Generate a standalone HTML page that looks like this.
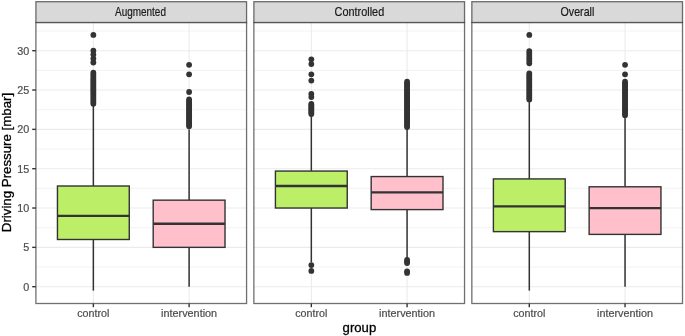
<!DOCTYPE html>
<html><head><meta charset="utf-8"><title>plot</title><style>html,body{margin:0;padding:0;background:#fff}svg{display:block;will-change:transform;opacity:0.9999}</style></head><body>
<svg width="685" height="336" viewBox="0 0 685 336" font-family="Liberation Sans, sans-serif">
<rect width="685" height="336" fill="#fff"/>
<rect x="35.90" y="22.5" width="210.67" height="281.0" fill="#fff"/>
<line x1="35.90" x2="246.57" y1="267.03" y2="267.03" stroke="#EBEBEB" stroke-width="0.6"/>
<line x1="35.90" x2="246.57" y1="227.70" y2="227.70" stroke="#EBEBEB" stroke-width="0.6"/>
<line x1="35.90" x2="246.57" y1="188.36" y2="188.36" stroke="#EBEBEB" stroke-width="0.6"/>
<line x1="35.90" x2="246.57" y1="149.03" y2="149.03" stroke="#EBEBEB" stroke-width="0.6"/>
<line x1="35.90" x2="246.57" y1="109.69" y2="109.69" stroke="#EBEBEB" stroke-width="0.6"/>
<line x1="35.90" x2="246.57" y1="70.36" y2="70.36" stroke="#EBEBEB" stroke-width="0.6"/>
<line x1="35.90" x2="246.57" y1="31.02" y2="31.02" stroke="#EBEBEB" stroke-width="0.6"/>
<line x1="35.90" x2="246.57" y1="286.70" y2="286.70" stroke="#EBEBEB" stroke-width="1.1"/>
<line x1="35.90" x2="246.57" y1="247.36" y2="247.36" stroke="#EBEBEB" stroke-width="1.1"/>
<line x1="35.90" x2="246.57" y1="208.03" y2="208.03" stroke="#EBEBEB" stroke-width="1.1"/>
<line x1="35.90" x2="246.57" y1="168.69" y2="168.69" stroke="#EBEBEB" stroke-width="1.1"/>
<line x1="35.90" x2="246.57" y1="129.36" y2="129.36" stroke="#EBEBEB" stroke-width="1.1"/>
<line x1="35.90" x2="246.57" y1="90.02" y2="90.02" stroke="#EBEBEB" stroke-width="1.1"/>
<line x1="35.90" x2="246.57" y1="50.69" y2="50.69" stroke="#EBEBEB" stroke-width="1.1"/>
<line x1="93.36" x2="93.36" y1="22.5" y2="303.5" stroke="#EBEBEB" stroke-width="1.1"/>
<line x1="189.11" x2="189.11" y1="22.5" y2="303.5" stroke="#EBEBEB" stroke-width="1.1"/>
<circle cx="93.36" cy="34.96" r="2.9" fill="#333333"/>
<circle cx="93.36" cy="50.69" r="2.9" fill="#333333"/>
<circle cx="93.36" cy="54.62" r="2.9" fill="#333333"/>
<circle cx="93.36" cy="58.56" r="2.9" fill="#333333"/>
<circle cx="93.36" cy="62.49" r="2.9" fill="#333333"/>
<circle cx="93.36" cy="72.72" r="2.9" fill="#333333"/>
<circle cx="93.36" cy="74.66" r="2.9" fill="#333333"/>
<circle cx="93.36" cy="76.60" r="2.9" fill="#333333"/>
<circle cx="93.36" cy="78.54" r="2.9" fill="#333333"/>
<circle cx="93.36" cy="80.49" r="2.9" fill="#333333"/>
<circle cx="93.36" cy="82.43" r="2.9" fill="#333333"/>
<circle cx="93.36" cy="84.37" r="2.9" fill="#333333"/>
<circle cx="93.36" cy="86.31" r="2.9" fill="#333333"/>
<circle cx="93.36" cy="88.25" r="2.9" fill="#333333"/>
<circle cx="93.36" cy="90.20" r="2.9" fill="#333333"/>
<circle cx="93.36" cy="92.14" r="2.9" fill="#333333"/>
<circle cx="93.36" cy="94.08" r="2.9" fill="#333333"/>
<circle cx="93.36" cy="96.02" r="2.9" fill="#333333"/>
<circle cx="93.36" cy="97.97" r="2.9" fill="#333333"/>
<circle cx="93.36" cy="99.91" r="2.9" fill="#333333"/>
<circle cx="93.36" cy="101.85" r="2.9" fill="#333333"/>
<circle cx="93.36" cy="103.79" r="2.9" fill="#333333"/>
<line x1="93.36" x2="93.36" y1="105.76" y2="186.00" stroke="#333333" stroke-width="1.5"/>
<line x1="93.36" x2="93.36" y1="239.50" y2="290.63" stroke="#333333" stroke-width="1.5"/>
<rect x="57.45" y="186.00" width="71.82" height="53.50" fill="#BCEE68" stroke="#333333" stroke-width="1.4"/>
<line x1="57.45" x2="129.27" y1="215.90" y2="215.90" stroke="#333333" stroke-width="2.3"/>
<circle cx="189.11" cy="64.85" r="2.9" fill="#333333"/>
<circle cx="189.11" cy="74.29" r="2.9" fill="#333333"/>
<circle cx="189.11" cy="91.99" r="2.9" fill="#333333"/>
<circle cx="189.11" cy="99.47" r="2.9" fill="#333333"/>
<circle cx="189.11" cy="101.04" r="2.9" fill="#333333"/>
<circle cx="189.11" cy="102.61" r="2.9" fill="#333333"/>
<circle cx="189.11" cy="104.19" r="2.9" fill="#333333"/>
<circle cx="189.11" cy="105.76" r="2.9" fill="#333333"/>
<circle cx="189.11" cy="107.33" r="2.9" fill="#333333"/>
<circle cx="189.11" cy="108.91" r="2.9" fill="#333333"/>
<circle cx="189.11" cy="110.48" r="2.9" fill="#333333"/>
<circle cx="189.11" cy="112.05" r="2.9" fill="#333333"/>
<circle cx="189.11" cy="113.63" r="2.9" fill="#333333"/>
<circle cx="189.11" cy="115.20" r="2.9" fill="#333333"/>
<circle cx="189.11" cy="116.77" r="2.9" fill="#333333"/>
<circle cx="189.11" cy="118.35" r="2.9" fill="#333333"/>
<circle cx="189.11" cy="119.92" r="2.9" fill="#333333"/>
<circle cx="189.11" cy="121.49" r="2.9" fill="#333333"/>
<circle cx="189.11" cy="123.07" r="2.9" fill="#333333"/>
<circle cx="189.11" cy="124.64" r="2.9" fill="#333333"/>
<circle cx="189.11" cy="126.21" r="2.9" fill="#333333"/>
<line x1="189.11" x2="189.11" y1="129.36" y2="200.16" stroke="#333333" stroke-width="1.5"/>
<line x1="189.11" x2="189.11" y1="247.36" y2="286.70" stroke="#333333" stroke-width="1.5"/>
<rect x="153.20" y="200.16" width="71.82" height="47.20" fill="#FFC0CB" stroke="#333333" stroke-width="1.4"/>
<line x1="153.20" x2="225.02" y1="223.76" y2="223.76" stroke="#333333" stroke-width="2.3"/>
<rect x="35.90" y="22.5" width="210.67" height="281.0" fill="none" stroke="#333333" stroke-opacity="0.7" stroke-width="1.3"/>
<rect x="35.90" y="1.7" width="210.67" height="20.8" fill="#D9D9D9" stroke="#333333" stroke-opacity="0.7" stroke-width="1.3"/>
<text x="140.48" y="15.7" font-size="12.4" fill="#1A1A1A" stroke="#1A1A1A" stroke-width="0.2" text-anchor="middle" textLength="50.9" lengthAdjust="spacingAndGlyphs">Augmented</text>
<line x1="93.36" x2="93.36" y1="303.5" y2="307.2" stroke="#333333" stroke-width="1.4"/>
<text x="93.36" y="317.45" font-size="10.7" fill="#4D4D4D" stroke="#4D4D4D" stroke-width="0.2" text-anchor="middle" textLength="32.2" lengthAdjust="spacingAndGlyphs">control</text>
<line x1="189.11" x2="189.11" y1="303.5" y2="307.2" stroke="#333333" stroke-width="1.4"/>
<text x="189.11" y="317.45" font-size="10.7" fill="#4D4D4D" stroke="#4D4D4D" stroke-width="0.2" text-anchor="middle" textLength="56.0" lengthAdjust="spacingAndGlyphs">intervention</text>
<rect x="253.87" y="22.5" width="210.67" height="281.0" fill="#fff"/>
<line x1="253.87" x2="464.54" y1="267.03" y2="267.03" stroke="#EBEBEB" stroke-width="0.6"/>
<line x1="253.87" x2="464.54" y1="227.70" y2="227.70" stroke="#EBEBEB" stroke-width="0.6"/>
<line x1="253.87" x2="464.54" y1="188.36" y2="188.36" stroke="#EBEBEB" stroke-width="0.6"/>
<line x1="253.87" x2="464.54" y1="149.03" y2="149.03" stroke="#EBEBEB" stroke-width="0.6"/>
<line x1="253.87" x2="464.54" y1="109.69" y2="109.69" stroke="#EBEBEB" stroke-width="0.6"/>
<line x1="253.87" x2="464.54" y1="70.36" y2="70.36" stroke="#EBEBEB" stroke-width="0.6"/>
<line x1="253.87" x2="464.54" y1="31.02" y2="31.02" stroke="#EBEBEB" stroke-width="0.6"/>
<line x1="253.87" x2="464.54" y1="286.70" y2="286.70" stroke="#EBEBEB" stroke-width="1.1"/>
<line x1="253.87" x2="464.54" y1="247.36" y2="247.36" stroke="#EBEBEB" stroke-width="1.1"/>
<line x1="253.87" x2="464.54" y1="208.03" y2="208.03" stroke="#EBEBEB" stroke-width="1.1"/>
<line x1="253.87" x2="464.54" y1="168.69" y2="168.69" stroke="#EBEBEB" stroke-width="1.1"/>
<line x1="253.87" x2="464.54" y1="129.36" y2="129.36" stroke="#EBEBEB" stroke-width="1.1"/>
<line x1="253.87" x2="464.54" y1="90.02" y2="90.02" stroke="#EBEBEB" stroke-width="1.1"/>
<line x1="253.87" x2="464.54" y1="50.69" y2="50.69" stroke="#EBEBEB" stroke-width="1.1"/>
<line x1="311.33" x2="311.33" y1="22.5" y2="303.5" stroke="#EBEBEB" stroke-width="1.1"/>
<line x1="407.08" x2="407.08" y1="22.5" y2="303.5" stroke="#EBEBEB" stroke-width="1.1"/>
<circle cx="311.33" cy="59.34" r="2.9" fill="#333333"/>
<circle cx="311.33" cy="64.06" r="2.9" fill="#333333"/>
<circle cx="311.33" cy="74.29" r="2.9" fill="#333333"/>
<circle cx="311.33" cy="80.58" r="2.9" fill="#333333"/>
<circle cx="311.33" cy="93.96" r="2.9" fill="#333333"/>
<circle cx="311.33" cy="97.11" r="2.9" fill="#333333"/>
<circle cx="311.33" cy="103.79" r="2.9" fill="#333333"/>
<circle cx="311.33" cy="105.25" r="2.9" fill="#333333"/>
<circle cx="311.33" cy="106.71" r="2.9" fill="#333333"/>
<circle cx="311.33" cy="108.18" r="2.9" fill="#333333"/>
<circle cx="311.33" cy="109.64" r="2.9" fill="#333333"/>
<circle cx="311.33" cy="111.10" r="2.9" fill="#333333"/>
<circle cx="311.33" cy="112.56" r="2.9" fill="#333333"/>
<circle cx="311.33" cy="114.02" r="2.9" fill="#333333"/>
<circle cx="311.33" cy="265.07" r="2.9" fill="#333333"/>
<circle cx="311.33" cy="270.97" r="2.9" fill="#333333"/>
<line x1="311.33" x2="311.33" y1="115.99" y2="171.06" stroke="#333333" stroke-width="1.5"/>
<line x1="311.33" x2="311.33" y1="208.03" y2="262.31" stroke="#333333" stroke-width="1.5"/>
<rect x="275.42" y="171.06" width="71.82" height="36.97" fill="#BCEE68" stroke="#333333" stroke-width="1.4"/>
<line x1="275.42" x2="347.24" y1="186.00" y2="186.00" stroke="#333333" stroke-width="2.3"/>
<circle cx="407.08" cy="81.76" r="2.9" fill="#333333"/>
<circle cx="407.08" cy="83.32" r="2.9" fill="#333333"/>
<circle cx="407.08" cy="84.88" r="2.9" fill="#333333"/>
<circle cx="407.08" cy="86.44" r="2.9" fill="#333333"/>
<circle cx="407.08" cy="88.00" r="2.9" fill="#333333"/>
<circle cx="407.08" cy="89.56" r="2.9" fill="#333333"/>
<circle cx="407.08" cy="91.12" r="2.9" fill="#333333"/>
<circle cx="407.08" cy="92.68" r="2.9" fill="#333333"/>
<circle cx="407.08" cy="94.24" r="2.9" fill="#333333"/>
<circle cx="407.08" cy="95.80" r="2.9" fill="#333333"/>
<circle cx="407.08" cy="97.36" r="2.9" fill="#333333"/>
<circle cx="407.08" cy="98.92" r="2.9" fill="#333333"/>
<circle cx="407.08" cy="100.48" r="2.9" fill="#333333"/>
<circle cx="407.08" cy="102.04" r="2.9" fill="#333333"/>
<circle cx="407.08" cy="103.60" r="2.9" fill="#333333"/>
<circle cx="407.08" cy="105.16" r="2.9" fill="#333333"/>
<circle cx="407.08" cy="106.72" r="2.9" fill="#333333"/>
<circle cx="407.08" cy="108.28" r="2.9" fill="#333333"/>
<circle cx="407.08" cy="109.84" r="2.9" fill="#333333"/>
<circle cx="407.08" cy="111.40" r="2.9" fill="#333333"/>
<circle cx="407.08" cy="112.96" r="2.9" fill="#333333"/>
<circle cx="407.08" cy="114.52" r="2.9" fill="#333333"/>
<circle cx="407.08" cy="116.08" r="2.9" fill="#333333"/>
<circle cx="407.08" cy="117.64" r="2.9" fill="#333333"/>
<circle cx="407.08" cy="119.20" r="2.9" fill="#333333"/>
<circle cx="407.08" cy="120.76" r="2.9" fill="#333333"/>
<circle cx="407.08" cy="122.32" r="2.9" fill="#333333"/>
<circle cx="407.08" cy="123.88" r="2.9" fill="#333333"/>
<circle cx="407.08" cy="125.44" r="2.9" fill="#333333"/>
<circle cx="407.08" cy="127.00" r="2.9" fill="#333333"/>
<circle cx="407.08" cy="259.95" r="2.9" fill="#333333"/>
<circle cx="407.08" cy="261.53" r="2.9" fill="#333333"/>
<circle cx="407.08" cy="263.10" r="2.9" fill="#333333"/>
<circle cx="407.08" cy="271.36" r="2.9" fill="#333333"/>
<circle cx="407.08" cy="272.93" r="2.9" fill="#333333"/>
<line x1="407.08" x2="407.08" y1="127.79" y2="176.56" stroke="#333333" stroke-width="1.5"/>
<line x1="407.08" x2="407.08" y1="209.60" y2="258.77" stroke="#333333" stroke-width="1.5"/>
<rect x="371.17" y="176.56" width="71.82" height="33.04" fill="#FFC0CB" stroke="#333333" stroke-width="1.4"/>
<line x1="371.17" x2="442.99" y1="192.30" y2="192.30" stroke="#333333" stroke-width="2.3"/>
<rect x="253.87" y="22.5" width="210.67" height="281.0" fill="none" stroke="#333333" stroke-opacity="0.7" stroke-width="1.3"/>
<rect x="253.87" y="1.7" width="210.67" height="20.8" fill="#D9D9D9" stroke="#333333" stroke-opacity="0.7" stroke-width="1.3"/>
<text x="359.40" y="15.7" font-size="12.4" fill="#1A1A1A" stroke="#1A1A1A" stroke-width="0.2" text-anchor="middle" textLength="49.6" lengthAdjust="spacingAndGlyphs">Controlled</text>
<line x1="311.33" x2="311.33" y1="303.5" y2="307.2" stroke="#333333" stroke-width="1.4"/>
<text x="311.33" y="317.45" font-size="10.7" fill="#4D4D4D" stroke="#4D4D4D" stroke-width="0.2" text-anchor="middle" textLength="32.2" lengthAdjust="spacingAndGlyphs">control</text>
<line x1="407.08" x2="407.08" y1="303.5" y2="307.2" stroke="#333333" stroke-width="1.4"/>
<text x="407.08" y="317.45" font-size="10.7" fill="#4D4D4D" stroke="#4D4D4D" stroke-width="0.2" text-anchor="middle" textLength="56.0" lengthAdjust="spacingAndGlyphs">intervention</text>
<rect x="471.84" y="22.5" width="210.67" height="281.0" fill="#fff"/>
<line x1="471.84" x2="682.51" y1="267.03" y2="267.03" stroke="#EBEBEB" stroke-width="0.6"/>
<line x1="471.84" x2="682.51" y1="227.70" y2="227.70" stroke="#EBEBEB" stroke-width="0.6"/>
<line x1="471.84" x2="682.51" y1="188.36" y2="188.36" stroke="#EBEBEB" stroke-width="0.6"/>
<line x1="471.84" x2="682.51" y1="149.03" y2="149.03" stroke="#EBEBEB" stroke-width="0.6"/>
<line x1="471.84" x2="682.51" y1="109.69" y2="109.69" stroke="#EBEBEB" stroke-width="0.6"/>
<line x1="471.84" x2="682.51" y1="70.36" y2="70.36" stroke="#EBEBEB" stroke-width="0.6"/>
<line x1="471.84" x2="682.51" y1="31.02" y2="31.02" stroke="#EBEBEB" stroke-width="0.6"/>
<line x1="471.84" x2="682.51" y1="286.70" y2="286.70" stroke="#EBEBEB" stroke-width="1.1"/>
<line x1="471.84" x2="682.51" y1="247.36" y2="247.36" stroke="#EBEBEB" stroke-width="1.1"/>
<line x1="471.84" x2="682.51" y1="208.03" y2="208.03" stroke="#EBEBEB" stroke-width="1.1"/>
<line x1="471.84" x2="682.51" y1="168.69" y2="168.69" stroke="#EBEBEB" stroke-width="1.1"/>
<line x1="471.84" x2="682.51" y1="129.36" y2="129.36" stroke="#EBEBEB" stroke-width="1.1"/>
<line x1="471.84" x2="682.51" y1="90.02" y2="90.02" stroke="#EBEBEB" stroke-width="1.1"/>
<line x1="471.84" x2="682.51" y1="50.69" y2="50.69" stroke="#EBEBEB" stroke-width="1.1"/>
<line x1="529.30" x2="529.30" y1="22.5" y2="303.5" stroke="#EBEBEB" stroke-width="1.1"/>
<line x1="625.05" x2="625.05" y1="22.5" y2="303.5" stroke="#EBEBEB" stroke-width="1.1"/>
<circle cx="529.30" cy="34.96" r="2.9" fill="#333333"/>
<circle cx="529.30" cy="51.08" r="2.9" fill="#333333"/>
<circle cx="529.30" cy="53.52" r="2.9" fill="#333333"/>
<circle cx="529.30" cy="55.96" r="2.9" fill="#333333"/>
<circle cx="529.30" cy="58.40" r="2.9" fill="#333333"/>
<circle cx="529.30" cy="60.84" r="2.9" fill="#333333"/>
<circle cx="529.30" cy="63.28" r="2.9" fill="#333333"/>
<circle cx="529.30" cy="73.50" r="2.9" fill="#333333"/>
<circle cx="529.30" cy="75.50" r="2.9" fill="#333333"/>
<circle cx="529.30" cy="77.50" r="2.9" fill="#333333"/>
<circle cx="529.30" cy="79.50" r="2.9" fill="#333333"/>
<circle cx="529.30" cy="81.49" r="2.9" fill="#333333"/>
<circle cx="529.30" cy="83.49" r="2.9" fill="#333333"/>
<circle cx="529.30" cy="85.49" r="2.9" fill="#333333"/>
<circle cx="529.30" cy="87.48" r="2.9" fill="#333333"/>
<circle cx="529.30" cy="89.48" r="2.9" fill="#333333"/>
<circle cx="529.30" cy="91.48" r="2.9" fill="#333333"/>
<circle cx="529.30" cy="93.47" r="2.9" fill="#333333"/>
<circle cx="529.30" cy="95.47" r="2.9" fill="#333333"/>
<circle cx="529.30" cy="97.47" r="2.9" fill="#333333"/>
<circle cx="529.30" cy="99.47" r="2.9" fill="#333333"/>
<line x1="529.30" x2="529.30" y1="100.25" y2="178.92" stroke="#333333" stroke-width="1.5"/>
<line x1="529.30" x2="529.30" y1="231.63" y2="290.63" stroke="#333333" stroke-width="1.5"/>
<rect x="493.39" y="178.92" width="71.82" height="52.71" fill="#BCEE68" stroke="#333333" stroke-width="1.4"/>
<line x1="493.39" x2="565.21" y1="206.46" y2="206.46" stroke="#333333" stroke-width="2.3"/>
<circle cx="625.05" cy="64.85" r="2.9" fill="#333333"/>
<circle cx="625.05" cy="74.29" r="2.9" fill="#333333"/>
<circle cx="625.05" cy="81.76" r="2.9" fill="#333333"/>
<circle cx="625.05" cy="83.36" r="2.9" fill="#333333"/>
<circle cx="625.05" cy="84.95" r="2.9" fill="#333333"/>
<circle cx="625.05" cy="86.54" r="2.9" fill="#333333"/>
<circle cx="625.05" cy="88.13" r="2.9" fill="#333333"/>
<circle cx="625.05" cy="89.73" r="2.9" fill="#333333"/>
<circle cx="625.05" cy="91.32" r="2.9" fill="#333333"/>
<circle cx="625.05" cy="92.91" r="2.9" fill="#333333"/>
<circle cx="625.05" cy="94.50" r="2.9" fill="#333333"/>
<circle cx="625.05" cy="96.09" r="2.9" fill="#333333"/>
<circle cx="625.05" cy="97.69" r="2.9" fill="#333333"/>
<circle cx="625.05" cy="99.28" r="2.9" fill="#333333"/>
<circle cx="625.05" cy="100.87" r="2.9" fill="#333333"/>
<circle cx="625.05" cy="102.46" r="2.9" fill="#333333"/>
<circle cx="625.05" cy="104.05" r="2.9" fill="#333333"/>
<circle cx="625.05" cy="105.65" r="2.9" fill="#333333"/>
<circle cx="625.05" cy="107.24" r="2.9" fill="#333333"/>
<circle cx="625.05" cy="108.83" r="2.9" fill="#333333"/>
<circle cx="625.05" cy="110.42" r="2.9" fill="#333333"/>
<circle cx="625.05" cy="112.02" r="2.9" fill="#333333"/>
<circle cx="625.05" cy="113.61" r="2.9" fill="#333333"/>
<circle cx="625.05" cy="115.20" r="2.9" fill="#333333"/>
<line x1="625.05" x2="625.05" y1="115.99" y2="186.79" stroke="#333333" stroke-width="1.5"/>
<line x1="625.05" x2="625.05" y1="234.38" y2="286.70" stroke="#333333" stroke-width="1.5"/>
<rect x="589.14" y="186.79" width="71.82" height="47.60" fill="#FFC0CB" stroke="#333333" stroke-width="1.4"/>
<line x1="589.14" x2="660.96" y1="208.03" y2="208.03" stroke="#333333" stroke-width="2.3"/>
<rect x="471.84" y="22.5" width="210.67" height="281.0" fill="none" stroke="#333333" stroke-opacity="0.7" stroke-width="1.3"/>
<rect x="471.84" y="1.7" width="210.67" height="20.8" fill="#D9D9D9" stroke="#333333" stroke-opacity="0.7" stroke-width="1.3"/>
<text x="577.42" y="15.7" font-size="12.4" fill="#1A1A1A" stroke="#1A1A1A" stroke-width="0.2" text-anchor="middle" textLength="33.8" lengthAdjust="spacingAndGlyphs">Overall</text>
<line x1="529.30" x2="529.30" y1="303.5" y2="307.2" stroke="#333333" stroke-width="1.4"/>
<text x="529.30" y="317.45" font-size="10.7" fill="#4D4D4D" stroke="#4D4D4D" stroke-width="0.2" text-anchor="middle" textLength="32.2" lengthAdjust="spacingAndGlyphs">control</text>
<line x1="625.05" x2="625.05" y1="303.5" y2="307.2" stroke="#333333" stroke-width="1.4"/>
<text x="625.05" y="317.45" font-size="10.7" fill="#4D4D4D" stroke="#4D4D4D" stroke-width="0.2" text-anchor="middle" textLength="56.0" lengthAdjust="spacingAndGlyphs">intervention</text>
<line x1="32.2" x2="35.9" y1="286.70" y2="286.70" stroke="#333333" stroke-width="1.4"/>
<text x="29.2" y="290.55" font-size="10.8" fill="#4D4D4D" stroke="#4D4D4D" stroke-width="0.2" text-anchor="end">0</text>
<line x1="32.2" x2="35.9" y1="247.36" y2="247.36" stroke="#333333" stroke-width="1.4"/>
<text x="29.2" y="251.21" font-size="10.8" fill="#4D4D4D" stroke="#4D4D4D" stroke-width="0.2" text-anchor="end">5</text>
<line x1="32.2" x2="35.9" y1="208.03" y2="208.03" stroke="#333333" stroke-width="1.4"/>
<text x="29.2" y="211.88" font-size="10.8" fill="#4D4D4D" stroke="#4D4D4D" stroke-width="0.2" text-anchor="end">10</text>
<line x1="32.2" x2="35.9" y1="168.69" y2="168.69" stroke="#333333" stroke-width="1.4"/>
<text x="29.2" y="172.54" font-size="10.8" fill="#4D4D4D" stroke="#4D4D4D" stroke-width="0.2" text-anchor="end">15</text>
<line x1="32.2" x2="35.9" y1="129.36" y2="129.36" stroke="#333333" stroke-width="1.4"/>
<text x="29.2" y="133.21" font-size="10.8" fill="#4D4D4D" stroke="#4D4D4D" stroke-width="0.2" text-anchor="end">20</text>
<line x1="32.2" x2="35.9" y1="90.02" y2="90.02" stroke="#333333" stroke-width="1.4"/>
<text x="29.2" y="93.87" font-size="10.8" fill="#4D4D4D" stroke="#4D4D4D" stroke-width="0.2" text-anchor="end">25</text>
<line x1="32.2" x2="35.9" y1="50.69" y2="50.69" stroke="#333333" stroke-width="1.4"/>
<text x="29.2" y="54.54" font-size="10.8" fill="#4D4D4D" stroke="#4D4D4D" stroke-width="0.2" text-anchor="end">30</text>
<text x="359.4" y="332.1" font-size="13.3" fill="#000" stroke="#000" stroke-width="0.3" text-anchor="middle" textLength="33.6" lengthAdjust="spacingAndGlyphs">group</text>
<text transform="translate(11.4,162.5) rotate(-90)" font-size="13.3" fill="#000" stroke="#000" stroke-width="0.3" text-anchor="middle" textLength="139.4" lengthAdjust="spacingAndGlyphs">Driving Pressure [mbar]</text>
</svg>
</body></html>
